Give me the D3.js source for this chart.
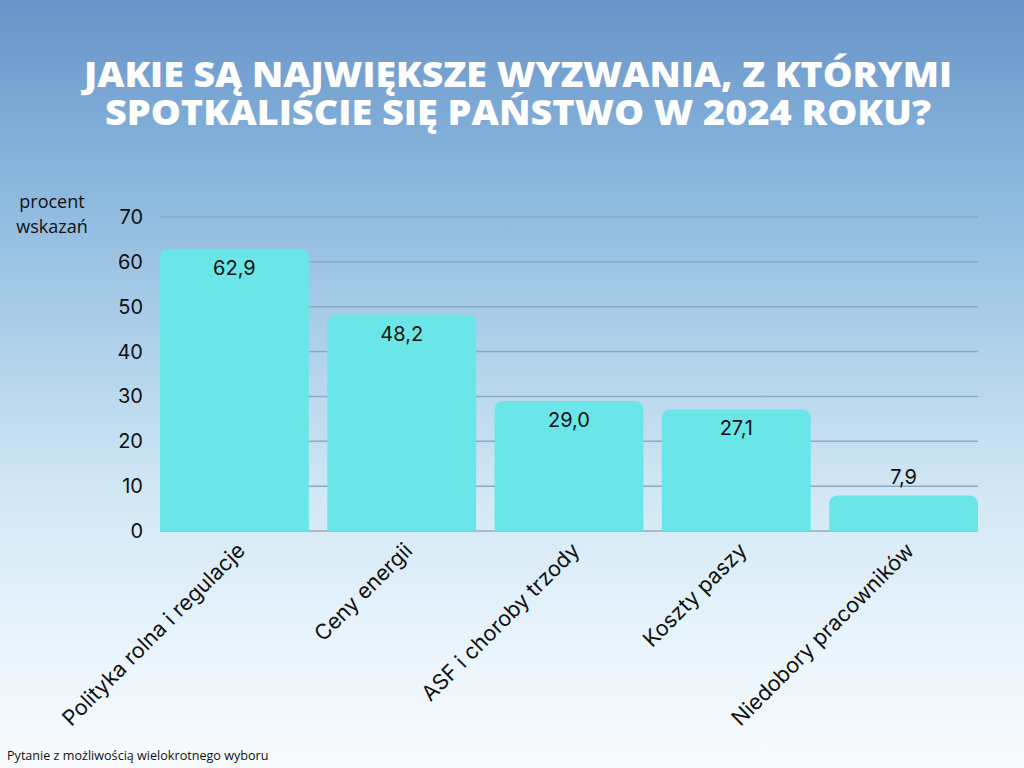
<!DOCTYPE html>
<html><head><meta charset="utf-8">
<script src="https://cdn.jsdelivr.net/npm/d3@7"></script>
<style>html,body{margin:0;padding:0;}svg{display:block;}</style>
</head><body>
<script>
const categories = ["Polityka rolna i regulacje","Ceny energii","ASF i choroby trzody","Koszty paszy","Niedobory pracowników"];
const values = [62.9, 48.2, 29.0, 27.1, 7.9];
const yTicks = [0,10,20,30,40,50,60,70];
const titleLines = ["JAKIE SĄ NAJWIĘKSZE WYZWANIA, Z KTÓRYMI","SPOTKALIŚCIE SIĘ PAŃSTWO W 2024 ROKU?"];

const W=1024,H=768;
const svg=d3.select("body").append("svg").attr("width",W).attr("height",H);
const defs=svg.append("defs");
const g=defs.append("linearGradient").attr("id","bg").attr("x1",0).attr("y1",0).attr("x2",0).attr("y2",1);
[[0,"#6893c8"],[0.2,"#84b2db"],[0.4,"#a6cbe7"],[0.65,"#d3e8f5"],[0.85,"#eaf5fc"],[1,"#f8fbfe"]].forEach(s=>g.append("stop").attr("offset",s[0]).attr("stop-color",s[1]));
svg.append("rect").attr("width",W).attr("height",H).attr("fill","url(#bg)");

svg.selectAll("text.title").data(titleLines).join("text")
 .attr("x",518).attr("y",(d,i)=>87+i*38).attr("text-anchor","middle")
 .attr("fill","#fff").attr("font-family","Open Sans").attr("font-weight",800)
 .attr("font-size",35).attr("textLength",(d,i)=>i==0?868:826).attr("lengthAdjust","spacingAndGlyphs")
 .text(d=>d);

const x=d3.scaleBand().domain(categories).range([160,978]).paddingInner(0.11).paddingOuter(0);
const y=d3.scaleLinear().domain([0,70]).range([531,217]);

svg.append("g").selectAll("line").data(yTicks.filter(t=>t>0)).join("line")
 .attr("x1",160).attr("x2",978).attr("y1",d=>y(d)).attr("y2",d=>y(d))
 .attr("stroke","#8aa9c2").attr("stroke-width",1.5);
svg.append("line").attr("x1",160).attr("x2",978).attr("y1",y(0)).attr("y2",y(0)).attr("stroke","#9aa9b8").attr("stroke-width",1.5);

svg.append("g").selectAll("text").data(yTicks).join("text")
 .attr("x",143).attr("y",d=>y(d)+7).attr("text-anchor","end")
 .attr("font-family","Inter").attr("font-size",20).attr("fill","#111")
 .text(d=>d);

const r=9;
svg.append("g").selectAll("path").data(values).join("path")
 .attr("fill","#6ae6e8")
 .attr("d",(d,i)=>{const x0=x(categories[i]),w=x.bandwidth(),y0=y(d),y1=y(0);
   return `M${x0},${y1}V${y0+r}Q${x0},${y0} ${x0+r},${y0}H${x0+w-r}Q${x0+w},${y0} ${x0+w},${y0+r}V${y1}Z`;});

const fmt=v=>v.toFixed(1).replace(".",",");
svg.append("g").selectAll("text").data(values).join("text")
 .attr("x",(d,i)=>x(categories[i])+x.bandwidth()/2)
 .attr("y",d=>(y(0)-y(d))>50? y(d)+26 : y(d)-12)
 .attr("text-anchor","middle").attr("font-family","Inter").attr("font-size",20).attr("fill","#111")
 .text(fmt);

svg.append("g").selectAll("text").data(categories).join("text")
 .attr("transform",(d)=>`translate(${x(d)+x.bandwidth()/2+12},${552}) rotate(-45)`)
 .attr("text-anchor","end").attr("font-family","Inter").attr("font-size",21.5).attr("fill","#111")
 .text(d=>d);

svg.append("text").attr("x",52).attr("y",208).attr("text-anchor","middle").attr("font-family","Open Sans").attr("font-size",18).attr("fill","#111").text("procent");
svg.append("text").attr("x",52).attr("y",233).attr("text-anchor","middle").attr("font-family","Open Sans").attr("font-size",18).attr("fill","#111").text("wskazań");

svg.append("text").attr("x",7).attr("y",760).attr("font-family","Open Sans").attr("font-size",12.6).attr("fill","#111").text("Pytanie z możliwością wielokrotnego wyboru");
</script>
</body></html>
